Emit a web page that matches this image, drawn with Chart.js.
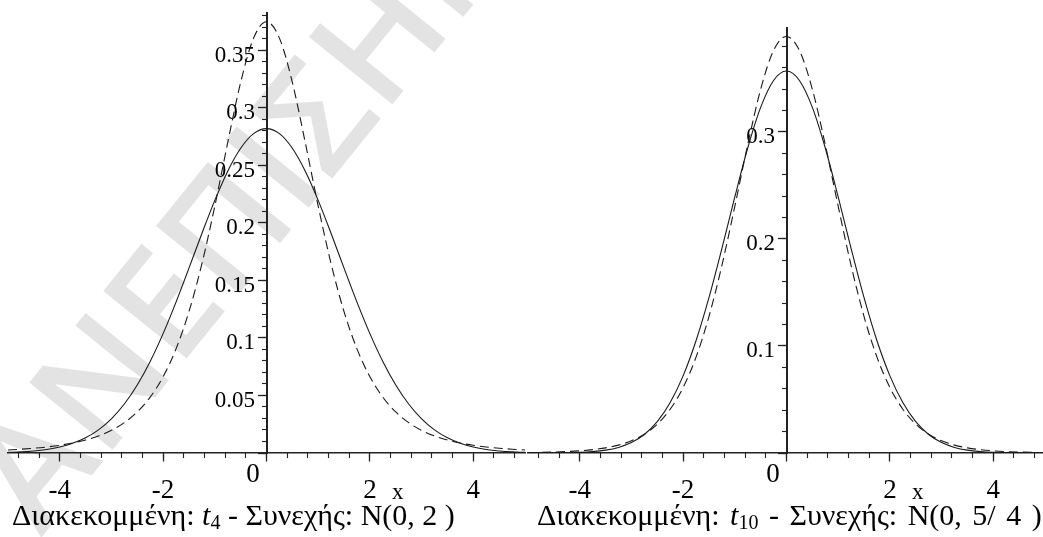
<!DOCTYPE html>
<html>
<head>
<meta charset="utf-8">
<script src="https://cdn.jsdelivr.net/npm/chart.js@4.4.1/dist/chart.umd.min.js"></script>
<style>
  html, body { margin: 0; padding: 0; background: #fff; }
  body { width: 1043px; height: 537px; overflow: hidden; position: relative; font-family: "Liberation Serif", serif; }
  canvas { position: absolute; top: 0; }
  #left { left: 0; }
  #right { left: 520px; }
  .caption { position: absolute; top: 500px; font-size: 30px; color: #000; white-space: nowrap; line-height: 1; }
  .caption sub { font-size: 20px; vertical-align: -4px; line-height: 0; }
  #watermark {
    position: absolute; left: 0; top: 0;
    font-family: "Open Sans", sans-serif; font-size: 150px; font-weight: 600; line-height: 1;
    color: #e3e3e3; white-space: nowrap;
    transform-origin: 0 0; transform: translate(-62px, 454px) rotate(-51deg);
  }
</style>
</head>
<body>
<div id="watermark">ΑΝΕΠΙΣΗΜΟ</div>
<canvas id="left" width="530" height="537"></canvas>
<canvas id="right" width="530" height="537"></canvas>
<div class="caption" style="left:12px">Διακεκομμένη: <i>t</i><sub>4</sub> - Συνεχής: N(0, 2 )</div>
<div class="caption" style="left:537px; word-spacing:3px">Διακεκομμένη: <i>t</i><sub>10</sub> - Συνεχής: N(0, 5/ 4 )</div>
<script>
// x grid of the plotted curves
const xValues = [-5, -4.75, -4.5, -4.25, -4, -3.75, -3.5, -3.25, -3, -2.75, -2.5, -2.25, -2, -1.75, -1.5, -1.25, -1, -0.75, -0.5, -0.25,
  0, 0.25, 0.5, 0.75, 1, 1.25, 1.5, 1.75, 2, 2.25, 2.5, 2.75, 3, 3.25, 3.5, 3.75, 4, 4.25, 4.5, 4.75, 5];

// left panel: dashed t4, solid N(0,2)
const t4 = [0.00265, 0.00330, 0.00414, 0.00525, 0.00671, 0.00865, 0.01128, 0.01483, 0.01969, 0.02639, 0.03567, 0.04854, 0.06629, 0.09053, 0.12288, 0.16445, 0.21466, 0.26990, 0.32226, 0.36074,
  0.375, 0.36074, 0.32226, 0.26990, 0.21466, 0.16445, 0.12288, 0.09053, 0.06629, 0.04854, 0.03567, 0.02639, 0.01969, 0.01483, 0.01128, 0.00865, 0.00671, 0.00525, 0.00414, 0.00330, 0.00265];
const normal2 = [0.00054, 0.00100, 0.00179, 0.00309, 0.00517, 0.00839, 0.01319, 0.02012, 0.02973, 0.04259, 0.05913, 0.07956, 0.10378, 0.13119, 0.16073, 0.19087, 0.21969, 0.24509, 0.26500, 0.27772,
  0.28209, 0.27772, 0.26500, 0.24509, 0.21969, 0.19087, 0.16073, 0.13119, 0.10378, 0.07956, 0.05913, 0.04259, 0.02973, 0.02012, 0.01319, 0.00839, 0.00517, 0.00309, 0.00179, 0.00100, 0.00054];

// right panel: dashed t10, solid N(0,5/4)
const t10 = [0.00040, 0.00059, 0.00088, 0.00133, 0.00203, 0.00311, 0.00478, 0.00738, 0.01140, 0.01758, 0.02693, 0.04090, 0.06115, 0.08953, 0.12745, 0.17510, 0.23037, 0.28799, 0.33970, 0.37600,
  0.38911, 0.37600, 0.33970, 0.28799, 0.23037, 0.17510, 0.12745, 0.08953, 0.06115, 0.04090, 0.02693, 0.01758, 0.01140, 0.00738, 0.00478, 0.00311, 0.00203, 0.00133, 0.00088, 0.00059, 0.00040];
const normal54 = [0.00002, 0.00004, 0.00011, 0.00026, 0.00059, 0.00129, 0.00266, 0.00522, 0.00975, 0.01733, 0.02929, 0.04710, 0.07204, 0.10482, 0.14507, 0.19099, 0.23918, 0.28493, 0.32287, 0.34801,
  0.35682, 0.34801, 0.32287, 0.28493, 0.23918, 0.19099, 0.14507, 0.10482, 0.07204, 0.04710, 0.02929, 0.01733, 0.00975, 0.00522, 0.00266, 0.00129, 0.00059, 0.00026, 0.00011, 0.00004, 0.00002];

// axis ticks
const xTickValues = [-4, -2, 0, 2, 4];
const xMinorTicks = [-4.8, -4.4, -4, -3.6, -3.2, -2.8, -2.4, -2, -1.6, -1.2, -0.8, -0.4, 0, 0.4, 0.8, 1.2, 1.6, 2, 2.4, 2.8, 3.2, 3.6, 4, 4.4, 4.8];
const leftYLabelStep = 0.05, leftYMinorStep = 0.01, leftYMax = 0.3826;
const rightYLabelStep = 0.1, rightYMinorStep = 0.02, rightYMax = 0.397;
const axisName = 'x';
const axisNameAt = 2.54;

const serif = '"Liberation Serif", "Times New Roman", serif';

// draws the "x" axis name next to the 2 tick
const axisNamePlugin = {
  id: 'axisName',
  afterDraw(chart) {
    const ctx = chart.ctx;
    ctx.save();
    ctx.font = '23px ' + serif;
    ctx.fillStyle = '#000';
    ctx.textAlign = 'center';
    ctx.textBaseline = 'middle';
    ctx.fillText(axisName, chart.scales.x.getPixelForValue(axisNameAt), chart.scales.y.getPixelForValue(0) + 40);
    ctx.restore();
  }
};

function makeChart(id, dashed, solid, yMax, yStep, yMinor, topPad) {
  const pts = arr => xValues.map((x, i) => ({ x: x, y: arr[i] }));
  return new Chart(document.getElementById(id), {
    type: 'line',
    data: {
      datasets: [
        { data: pts(dashed), borderColor: '#1a1a1a', borderWidth: 1.1, borderDash: [9, 5], pointRadius: 0, cubicInterpolationMode: 'monotone', fill: false },
        { data: pts(solid), borderColor: '#1a1a1a', borderWidth: 1.1, pointRadius: 0, cubicInterpolationMode: 'monotone', fill: false }
      ]
    },
    options: {
      responsive: false,
      animation: false,
      devicePixelRatio: 1,
      layout: { padding: { left: 8, right: 5, top: topPad, bottom: 84 } },
      plugins: { legend: { display: false }, tooltip: { enabled: false } },
      scales: {
        x: {
          type: 'linear', min: -5, max: 5, position: { y: 0 },
          afterBuildTicks: s => { s.ticks = xTickValues.map(v => ({ value: v })); },
          grid: { drawOnChartArea: false, tickLength: 8, color: '#222', tickWidth: 1.3 },
          border: { color: '#222', width: 1.5 },
          ticks: {
            autoSkip: false, maxRotation: 0,
            padding: 6, color: '#000', font: { family: serif, size: 27, lineHeight: 0.58 },
            callback: v => Math.abs(v) < 1e-9 ? '0\u2003' : ['', String(v)]
          }
        },
        x2: {
          type: 'linear', min: -5, max: 5, position: { y: 0 },
          afterBuildTicks: s => { s.ticks = xMinorTicks.map(v => ({ value: v })); },
          grid: { drawOnChartArea: false, tickLength: 5, color: '#222', tickWidth: 1.1 },
          border: { display: false },
          ticks: { display: false, autoSkip: false }
        },
        y: {
          type: 'linear', min: 0, max: yMax, position: { x: 0 },
          grid: { drawOnChartArea: false, tickLength: 8, color: '#222', tickWidth: 1.3 },
          border: { color: '#222', width: 2 },
          ticks: {
            stepSize: yStep, includeBounds: false, autoSkip: false, padding: 2, labelOffset: 5,
            color: '#000', font: { family: serif, size: 23, lineHeight: 0.9 },
            callback: v => v < 1e-9 ? '' : String(Number(v.toFixed(2))) + '\u2002'
          }
        },
        y2: {
          type: 'linear', min: 0, max: yMax, position: { x: 0 },
          grid: { drawOnChartArea: false, tickLength: 5, color: '#222', tickWidth: 1.1 },
          border: { display: false },
          ticks: { display: false, stepSize: yMinor, includeBounds: false, autoSkip: false }
        }
      }
    },
    plugins: [axisNamePlugin]
  });
}

makeChart('left', t4, normal2, leftYMax, leftYLabelStep, leftYMinorStep, 13);
makeChart('right', t10, normal54, rightYMax, rightYLabelStep, rightYMinorStep, 28);
</script>
</body>
</html>
